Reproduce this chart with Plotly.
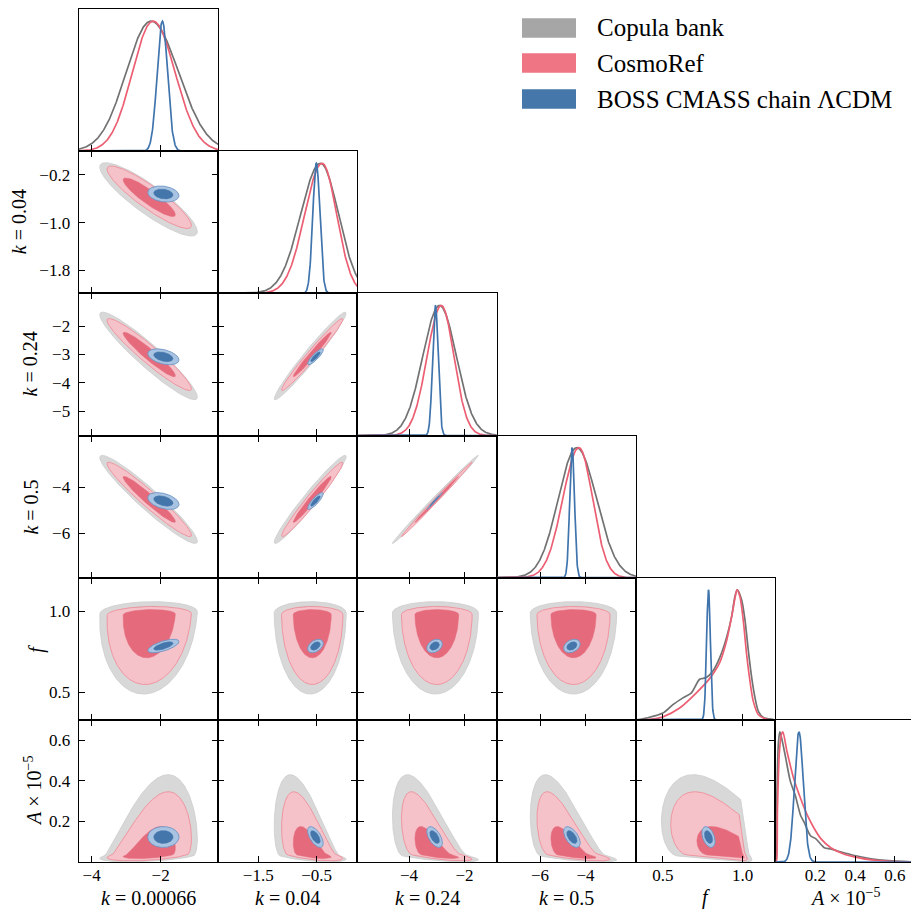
import numpy as np
import plotly.graph_objects as go

# ---------------- values ----------------
CHAINS = ["Copula bank", "CosmoRef", "BOSS CMASS chain ΛCDM"]
X_TITLES = ["<i>k</i> = 0.00066", "<i>k</i> = 0.04", "<i>k</i> = 0.24", "<i>k</i> = 0.5",
            "<i>f</i>", "<i>A</i> × 10<sup>−5</sup>"]
Y_TITLES = X_TITLES

RANGES = [[-4.375, -0.335], [-2.19, 0.20], [-5.86, -0.84], [-7.9, -1.78], [0.332, 1.206], [0.0, 0.70]]
TICKVALS = [[-4, -2], [-1.5, -0.5], [-4, -2], [-6, -4], [0.5, 1.0], [0.2, 0.4, 0.6]]
TICKTEXT = [["−4", "−2"], ["−1.5", "−0.5"], ["−4", "−2"], ["−6", "−4"], ["0.5", "1.0"], ["0.2", "0.4", "0.6"]]
YTICKVALS = [[], [-0.2, -1.0, -1.8], [-2, -3, -4, -5], [-4, -6], [0.5, 1.0], [0.2, 0.4, 0.6]]
YTICKTEXT = [[], ["−0.2", "−1.0", "−1.8"], ["−2", "−3", "−4", "−5"], ["−4", "−6"], ["0.5", "1.0"], ["0.2", "0.4", "0.6"]]

# 1-D marginals of the four k parameters: mode, lower width, upper width (per chain)
D1_MODE = {"grey": [-2.28, -0.434, -2.90, -4.39], "red": [-2.22, -0.405, -2.84, -4.29],
           "blue": [-1.95, -0.504, -3.05, -4.59, 0.786, 0.118]}
D1_SLO = {"grey": [0.72, 0.34, 0.61, 0.81], "red": [0.60, 0.30, 0.51, 0.71],
          "blue": [0.15, 0.061, 0.10, 0.105, 0.012, 0.022]}
D1_SHI = {"grey": [0.80, 0.31, 0.61, 0.87], "red": [0.64, 0.25, 0.46, 0.60],
          "blue": [0.15, 0.061, 0.10, 0.105, 0.012, 0.022]}

# 1-D marginals of f and A for the two broad chains, read point by point (peak = 1)
F_GREY_X = [0.332, 0.36, 0.395, 0.5, 0.563, 0.626, 0.679, 0.731, 0.773, 0.815, 0.857, 0.9, 0.931,
            0.952, 0.967, 0.994, 1.015, 1.036, 1.057, 1.078, 1.099, 1.13, 1.193, 1.206]
F_GREY_Y = [0.0, 0.003, 0.013, 0.052, 0.117, 0.169, 0.208, 0.312, 0.325, 0.377, 0.48, 0.636, 0.792,
            0.948, 1.0, 0.922, 0.766, 0.532, 0.325, 0.169, 0.065, 0.018, 0.003, 0.0]
F_RED_X = [0.332, 0.416, 0.5, 0.605, 0.71, 0.794, 0.857, 0.9, 0.931, 0.952, 0.964, 0.983, 1.004,
           1.025, 1.046, 1.067, 1.099, 1.152, 1.206]
F_RED_Y = [0.0, 0.003, 0.023, 0.091, 0.208, 0.319, 0.442, 0.61, 0.792, 0.935, 1.0, 0.948, 0.766,
           0.506, 0.299, 0.143, 0.039, 0.005, 0.0]
A_GREY_X = [0.0, 0.003, 0.008, 0.015, 0.022, 0.03, 0.049, 0.075, 0.1, 0.126, 0.143, 0.177, 0.202,
            0.245, 0.278, 0.312, 0.397, 0.48, 0.566, 0.69]
A_GREY_Y = [0.0, 0.0, 0.55, 0.92, 1.0, 0.96, 0.82, 0.62, 0.51, 0.36, 0.31, 0.2, 0.18, 0.11, 0.1,
            0.085, 0.05, 0.025, 0.01, 0.0]
A_RED_X = [0.0, 0.004, 0.01, 0.02, 0.03, 0.037, 0.058, 0.092, 0.126, 0.16, 0.194, 0.228, 0.278,
           0.346, 0.414, 0.482, 0.566, 0.69]
A_RED_Y = [0.0, 0.0, 0.4, 0.85, 0.98, 1.0, 0.85, 0.64, 0.49, 0.36, 0.26, 0.18, 0.11, 0.06, 0.034,
           0.016, 0.006, 0.0]

# 2-D credible regions: centre, lower width, upper width, tail exponents per parameter
C2_CENTER = {"grey": [-2.35, -0.61, -3.05, -4.53, 0.99, 0.030],
             "red": [-2.33, -0.575, -3.00, -4.53, 0.98, 0.035],
             "blue": [-1.92, -0.52, -3.08, -4.60, 0.786, 0.123]}
C2_WLO = {"grey": [0.578, 0.252, 0.632, 0.775, 0.204, 0.012],
          "red": [0.50, 0.215, 0.52, 0.655, 0.176, 0.012],
          "blue": [0.185, 0.055, 0.115, 0.149, 0.017, 0.021]}
C2_WHI = {"grey": [0.578, 0.252, 0.632, 0.775, 0.028, 0.09],
          "red": [0.50, 0.215, 0.52, 0.655, 0.02, 0.07],
          "blue": [0.185, 0.055, 0.115, 0.149, 0.017, 0.021]}
C2_PHI = {"grey": [1, 1, 1, 1, 1, 0.6], "red": [1, 1, 1, 1, 1, 0.6], "blue": [1, 1, 1, 1, 1, 1]}
RHO = {
    "grey": {(0, 1): -0.88, (0, 2): -0.94, (0, 3): -0.95, (1, 2): 0.975, (1, 3): 0.97, (2, 3): 0.996,
             (0, 4): 0.1, (1, 4): 0.0, (2, 4): 0.0, (3, 4): 0.0,
             (0, 5): 0.4, (1, 5): -0.55, (2, 5): -0.65, (3, 5): -0.65, (4, 5): -0.6},
    "red": {(0, 1): -0.90, (0, 2): -0.95, (0, 3): -0.96, (1, 2): 0.98, (1, 3): 0.975, (2, 3): 0.997,
            (0, 4): 0.1, (1, 4): 0.0, (2, 4): 0.0, (3, 4): 0.0,
            (0, 5): 0.45, (1, 5): -0.6, (2, 5): -0.72, (3, 5): -0.72, (4, 5): -0.65},
    "blue": {(0, 1): -0.2, (0, 2): -0.4, (0, 3): -0.4, (1, 2): 0.86, (1, 3): 0.85, (2, 3): 0.99,
             (0, 4): 0.65, (1, 4): 0.4, (2, 4): 0.3, (3, 4): 0.3,
             (0, 5): 0.0, (1, 5): -0.6, (2, 5): -0.55, (3, 5): -0.55, (4, 5): -0.4},
}
LEVELS = [0.683, 0.95]

# ---------------- styling ----------------
KEYS = ["grey", "red", "blue"]
LINE_COL = {"grey": "#727272", "red": "#ec5f73", "blue": "#3f74ad"}
FILL_OUT = {"grey": "#d8d8d8", "red": "#f5c2c9", "blue": "#a9c4e3"}
FILL_IN = {"grey": "#c8c8c8", "red": "#e56a7c", "blue": "#4576ab"}
EDGE = {"grey": "#cfcfcf", "red": "#ef8e9b", "blue": "#6f95c4"}
LEGEND_COL = {"grey": "#a6a6a6", "red": "#ef7585", "blue": "#4577aa"}
FONT = "Liberation Serif"

W, H = 911, 913
COL_EDGES = [78.7 + 139.35 * i for i in range(7)]
ROW_EDGES = [9.0 + 142.17 * i for i in range(7)]
PEAK_TOP = 1.093

fig = go.Figure()
layout = {}


def axname(n, a):
    return a if n == 1 else f"{a}{n}"


def z_to_x(z, m, wlo, whi, phi):
    return np.where(z >= 0, m + whi * np.abs(z) ** (1.0 / phi), m - wlo * np.abs(z))


common = dict(showline=True, linecolor="black", linewidth=1.3, showgrid=False, zeroline=False,
              ticks="inside", ticklen=6, tickwidth=1.1, tickcolor="black",
              tickfont=dict(family=FONT, size=17, color="black"))

n = 0
for r in range(6):
    for c in range(r + 1):
        n += 1
        xa, ya = axname(n, "x"), axname(n, "y")
        xdom = [COL_EDGES[c] / W, min(1.0, COL_EDGES[c + 1] / W)]
        ydom = [1 - ROW_EDGES[r + 1] / H, 1 - ROW_EDGES[r] / H]
        xr = list(RANGES[c])
        if COL_EDGES[c + 1] > W:
            xr[1] = xr[0] + (xr[1] - xr[0]) * (W - COL_EDGES[c]) / (COL_EDGES[c + 1] - COL_EDGES[c])
        layout[axname(n, "xaxis")] = dict(common, domain=xdom, range=xr, anchor=ya,
                                          tickvals=TICKVALS[c], ticktext=TICKTEXT[c],
                                          showticklabels=(r == 5), ticklabelstandoff=-3,
                                          mirror=(True if r == c else "allticks"))
        if r == c:
            layout[axname(n, "yaxis")] = dict(showline=True, linecolor="black", linewidth=1.3,
                                              showgrid=False, zeroline=False, ticks="",
                                              showticklabels=False, domain=ydom, range=[0, PEAK_TOP],
                                              anchor=xa, mirror=(COL_EDGES[c + 1] <= W))
            xs = np.linspace(xr[0], xr[1], 500)
            for key in KEYS:
                if c < 4 or key == "blue":
                    m, sl, sh = D1_MODE[key][c], D1_SLO[key][c], D1_SHI[key][c]
                    s = np.where(xs < m, sl, sh)
                    ys = np.exp(-0.5 * ((xs - m) / s) ** 2)
                    fig.add_trace(go.Scatter(x=xs, y=ys, mode="lines", xaxis=xa, yaxis=ya,
                                             line=dict(color=LINE_COL[key], width=1.7),
                                             hoverinfo="skip", showlegend=False))
                else:
                    px_, py_ = {("grey", 4): (F_GREY_X, F_GREY_Y), ("red", 4): (F_RED_X, F_RED_Y),
                                ("grey", 5): (A_GREY_X, A_GREY_Y), ("red", 5): (A_RED_X, A_RED_Y)}[(key, c)]
                    fig.add_trace(go.Scatter(x=px_, y=py_, mode="lines", xaxis=xa, yaxis=ya,
                                             line=dict(color=LINE_COL[key], width=1.7, shape="spline",
                                                       smoothing=0.8),
                                             hoverinfo="skip", showlegend=False))
        else:
            layout[axname(n, "yaxis")] = dict(common, domain=ydom, range=RANGES[r], anchor=xa,
                                              tickvals=YTICKVALS[r], ticktext=YTICKTEXT[r],
                                              showticklabels=(c == 0), ticklabelstandoff=4,
                                              mirror="allticks")
            t = np.linspace(0, 2 * np.pi, 400)
            for key in KEYS:
                rho = RHO[key][(c, r)]
                for lev, fills in ((LEVELS[1], FILL_OUT), (LEVELS[0], FILL_IN)):
                    rad = np.sqrt(-2 * np.log(1 - lev))
                    z1 = rad * np.cos(t)
                    z2 = rad * (rho * np.cos(t) + np.sqrt(1 - rho ** 2) * np.sin(t))
                    gx = z_to_x(z1, C2_CENTER[key][c], C2_WLO[key][c], C2_WHI[key][c], C2_PHI[key][c])
                    gy = z_to_x(z2, C2_CENTER[key][r], C2_WLO[key][r], C2_WHI[key][r], C2_PHI[key][r])
                    outer = fills is FILL_OUT
                    fig.add_trace(go.Scatter(x=gx, y=gy, mode="lines", fill="toself",
                                             fillcolor=fills[key], xaxis=xa, yaxis=ya,
                                             line=dict(color=EDGE[key] if outer else fills[key],
                                                       width=0.9 if outer else 0.5),
                                             hoverinfo="skip", showlegend=False))

annotations = []
for i in range(6):
    cx = (COL_EDGES[i] + COL_EDGES[i + 1]) / 2
    annotations.append(dict(text=X_TITLES[i], x=cx / W, y=2 / H, xref="paper", yref="paper",
                            xanchor="center", yanchor="bottom", showarrow=False,
                            font=dict(family=FONT, size=20, color="black")))
YT_X = [0, 19, 30, 31, 37, 33]
for i in range(1, 6):
    cy = (ROW_EDGES[i] + ROW_EDGES[i + 1]) / 2
    annotations.append(dict(text=Y_TITLES[i], x=YT_X[i] / W, y=1 - cy / H, xref="paper", yref="paper",
                            xanchor="center", yanchor="middle", textangle=-90, showarrow=False,
                            font=dict(family=FONT, size=20, color="black")))

shapes = []
LEG_Y = [(18.3, 37.7), (53.3, 72.7), (89.3, 108.7)]
for key, name, (y0, y1) in zip(KEYS, CHAINS, LEG_Y):
    shapes.append(dict(type="rect", xref="paper", yref="paper", x0=522 / W, x1=576 / W,
                       y0=1 - y1 / H, y1=1 - y0 / H, fillcolor=LEGEND_COL[key], line=dict(width=0)))
    annotations.append(dict(text=name, x=595 / W, y=1 - (y0 + y1) / 2 / H, xref="paper", yref="paper",
                            xanchor="left", yanchor="middle", showarrow=False,
                            font=dict(family=FONT, size=25, color="black")))

fig.update_layout(**layout)
fig.update_layout(width=W, height=H, margin=dict(l=0, r=0, t=0, b=0), paper_bgcolor="white",
                  plot_bgcolor="white", showlegend=False, hovermode=False,
                  annotations=annotations, shapes=shapes, font=dict(family=FONT, color="black"))
fig.write_html("out.html")
